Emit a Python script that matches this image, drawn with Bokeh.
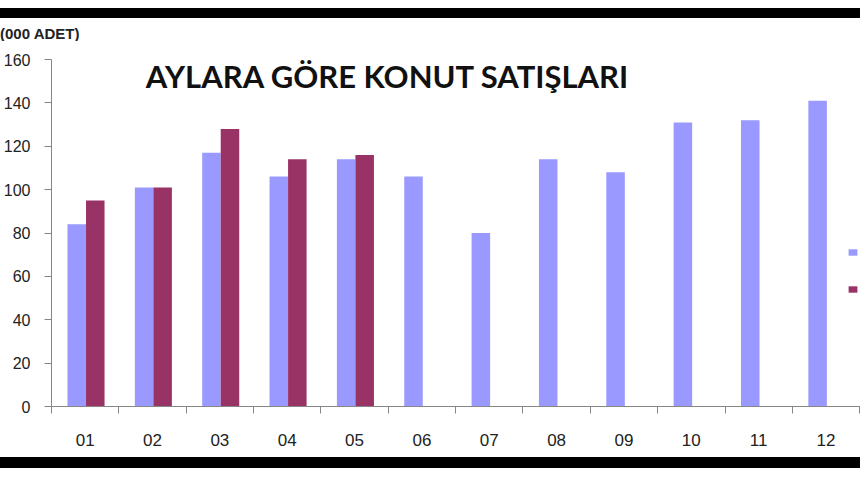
from bokeh.plotting import figure
from bokeh.models import Range1d, FixedTicker, Label, Div, ColumnDataSource, Legend, LegendItem
from bokeh.layouts import column
from bokeh.transform import dodge
from bokeh.core.properties import value
from bokeh.embed import file_html
from bokeh.resources import INLINE

months = ["01", "02", "03", "04", "05", "06", "07", "08", "09", "10", "11", "12"]
sales_2012 = [84, 101, 117, 106, 114, 106, 80, 114, 108, 131, 132, 141]
sales_2013 = [95, 101, 128, 114, 116]
y_ticks = [0, 20, 40, 60, 80, 100, 120, 140, 160]
title_text = "AYLARA GÖRE KONUT SATIŞLARI"
unit_text = "(000 ADET)"
# legend labels are cut off at the right edge in the reference; only keys show
legend_labels = ["", ""]

LIGHT = "#9999FF"
DARK = "#993366"
AXIS = "#868686"

pos = list(range(1, len(months) + 1))
src12 = ColumnDataSource(dict(x=pos, v=sales_2012))
src13 = ColumnDataSource(dict(x=pos[:len(sales_2013)], v=sales_2013))

W = 860
H = 416
cat_px = 67.35
left_b = 50
frame_w = 809

p = figure(width=W, height=H,
           x_range=Range1d(0.5, 0.5 + frame_w / cat_px),
           y_range=Range1d(0, 160),
           output_backend="svg", toolbar_location=None,
           min_border=0,
           min_border_left=left_b, min_border_right=0,
           min_border_top=18, min_border_bottom=51)
p.outline_line_color = None
p.xgrid.visible = False
p.ygrid.visible = False
p.background_fill_color = "white"
p.border_fill_color = "white"

bw = 0.275
r12 = p.vbar(x=dodge("x", -0.125, range=p.x_range), top="v", width=bw, bottom=0,
             source=src12, fill_color=LIGHT, line_color=None)
r13 = p.vbar(x=dodge("x", 0.15, range=p.x_range), top="v", width=bw, bottom=0,
             source=src13, fill_color=DARK, line_color=None)

# axes
ya = p.yaxis[0]
ya.ticker = FixedTicker(ticks=y_ticks)
ya.axis_line_color = AXIS
ya.major_tick_line_color = AXIS
ya.major_tick_out = 7
ya.major_tick_in = 0
ya.minor_tick_line_color = None
ya.major_label_text_font = "Liberation Sans"
ya.major_label_text_font_size = "16px"
ya.major_label_text_color = "#222222"
ya.major_label_standoff = 14

xa = p.xaxis[0]
xa.ticker = FixedTicker(ticks=pos, minor_ticks=[i + 0.5 for i in range(0, len(months) + 1)])
xa.major_label_overrides = {i: m for i, m in zip(pos, months)}
xa.axis_line_color = AXIS
xa.major_tick_line_color = None
xa.major_tick_out = 0
xa.major_tick_in = 0
xa.minor_tick_line_color = AXIS
xa.minor_tick_out = 7
xa.minor_tick_in = 0
xa.major_label_text_font = "Liberation Sans"
xa.major_label_text_font_size = "17px"
xa.major_label_text_color = "#222222"
xa.major_label_standoff = 20

# chart heading inside plot area
p.add_layout(Label(x=1.9, y=152.5, text=title_text, text_font="Lato",
                   text_font_style="bold", text_font_size="31px",
                   text_color="#111111", text_align="left", text_baseline="middle"))

lg = Legend(items=[LegendItem(label=value(legend_labels[0]), renderers=[r12]),
                   LegendItem(label=value(legend_labels[1]), renderers=[r13])],
            location=(796, 110))
lg.padding = 0
lg.margin = 0
lg.spacing = 22
lg.glyph_width = 11
lg.glyph_height = 8
lg.label_height = 15
lg.label_width = 0
lg.label_standoff = 0
lg.label_text_font = "Liberation Sans"
lg.label_text_font_size = "13px"
lg.background_fill_alpha = 0
lg.border_line_color = None
p.add_layout(lg)

top_gap = Div(text="", width=W, height=8, margin=0, styles={"background-color": "white"})
top_bar = Div(text="", width=W, height=10, margin=0, styles={"background-color": "black"})
gap_div = Div(text="", width=W, height=8, margin=0, styles={"background-color": "white"})
unit_div = Div(text=unit_text, width=W, height=15, margin=0,
               styles={"font-family": "Liberation Sans", "font-weight": "bold",
                       "font-size": "15px", "line-height": "15px", "color": "#222222",
                       "overflow": "hidden", "white-space": "nowrap",
                       "background-color": "white"})
bot_bar = Div(text="", width=W, height=11, margin=0, styles={"background-color": "black"})

layout = column(top_gap, top_bar, gap_div, unit_div, p, bot_bar, spacing=0)

open("out.html", "w").write(file_html(layout, INLINE))
